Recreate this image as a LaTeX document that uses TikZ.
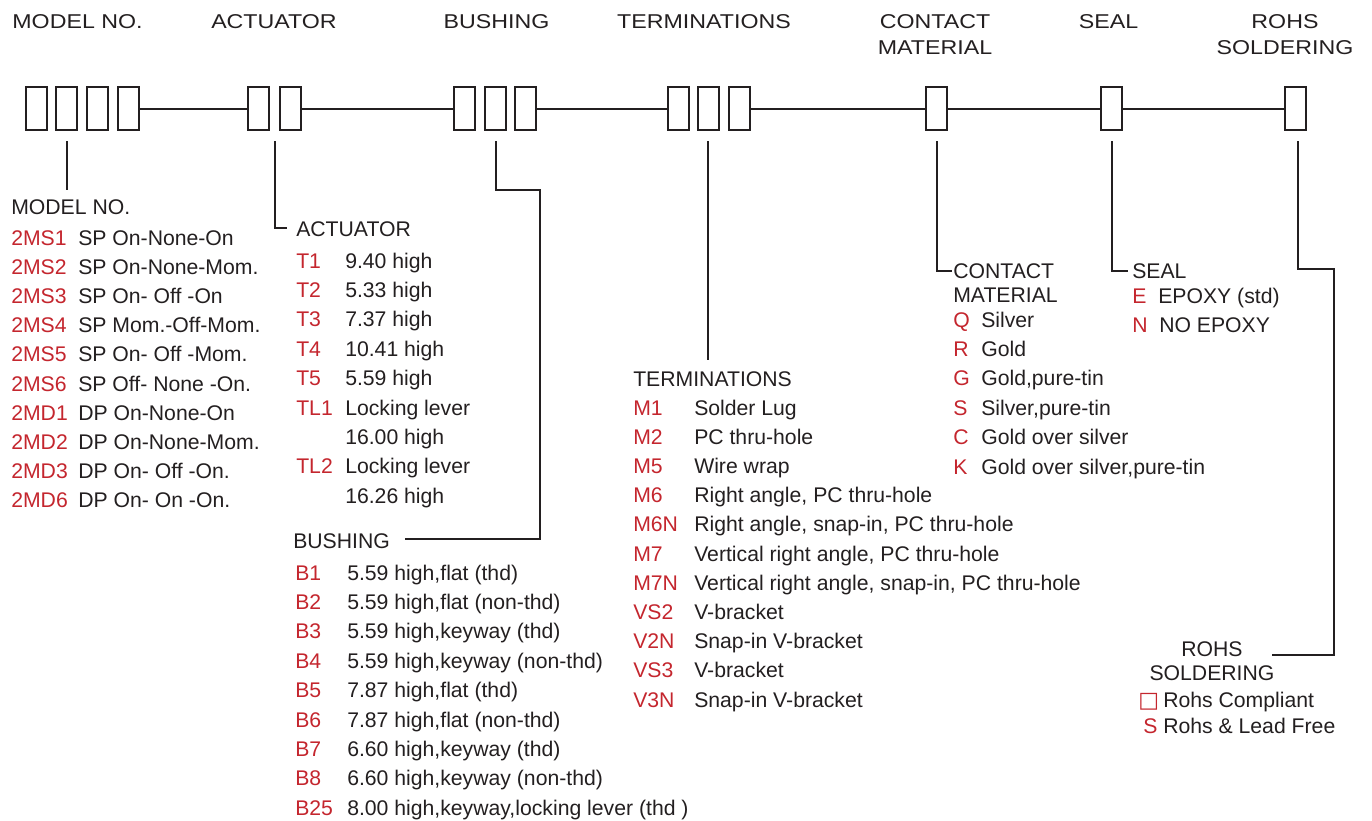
\documentclass[tikz,border=0pt]{standalone}
\usepackage{fontspec}
\setmainfont{Liberation Sans}
\newfontfamily\hdfont{Liberation Sans}[FakeStretch=1.16]
\newfontfamily\symfont{DejaVu Sans}
\usetikzlibrary{calc}
\definecolor{ink}{HTML}{231F20}
\definecolor{codered}{HTML}{C4262E}
\newcommand{\bodyfnt}{\fontsize{15.9}{19}\selectfont}
\newcommand{\hdfnt}{\hdfont\fontsize{15}{18}\selectfont}
\tikzset{
  cell/.style={draw=ink, line width=1.5pt, minimum width=15.75pt, minimum height=32.25pt, inner sep=0pt},
  wire/.style={draw=ink, line width=1.5pt},
  hd/.style={font=\hdfnt, text=ink, inner sep=0pt, anchor=base},
  lbl/.style={font=\bodyfnt, text=ink, inner sep=0pt, anchor=base west},
  lblc/.style={font=\bodyfnt, text=ink, inner sep=0pt, anchor=base},
  code/.style={font=\bodyfnt, text=codered, inner sep=0pt, anchor=base west},
}
\begin{document}
\begin{tikzpicture}[x=0.75pt, y=-0.75pt]
\useasboundingbox (0,0) rectangle (1372,821);

% ---- top headers
\node[hd] (hModel) at (77.5,28) {MODEL NO.};
\node[hd] (hAct) at (274,28) {ACTUATOR};
\node[hd] (hBush) at (496.5,28) {BUSHING};
\node[hd] (hTerm) at (704,28) {TERMINATIONS};
\node[hd] (hCont) at (935,28) {CONTACT};
\node[hd] (hMat) at (935,54) {MATERIAL};
\node[hd] (hSeal) at (1108.5,28) {SEAL};
\node[hd] (hRohs) at (1285,28) {ROHS};
\node[hd] (hSold) at (1285,54) {SOLDERING};

% ---- boxes
\node[cell] (m1) at (36,108.5) {};
\node[cell] (m2) at (66.5,108.5) {};
\node[cell] (m3) at (97,108.5) {};
\node[cell] (m4) at (128,108.5) {};
\node[cell] (a1) at (258.7,108.5) {};
\node[cell] (a2) at (290,108.5) {};
\node[cell] (b1) at (464.7,108.5) {};
\node[cell] (b2) at (495,108.5) {};
\node[cell] (b3) at (525.8,108.5) {};
\node[cell] (t1) at (678.3,108.5) {};
\node[cell] (t2) at (708.3,108.5) {};
\node[cell] (t3) at (739.5,108.5) {};
\node[cell] (c1) at (936.7,108.5) {};
\node[cell] (s1) at (1111.7,108.5) {};
\node[cell] (r1) at (1295.5,108.5) {};

% ---- main line
\draw[wire] (m4.east) -- (a1.west);
\draw[wire] (a2.east) -- (b1.west);
\draw[wire] (b3.east) -- (t1.west);
\draw[wire] (t3.east) -- (c1.west);
\draw[wire] (c1.east) -- (s1.west);
\draw[wire] (s1.east) -- (r1.west);

% ---- leader lines
\coordinate (mS) at ($(m2.south)+(0.5,10)$);
\coordinate (mE) at (67,190);
\draw[wire] (mS) -- (mS |- mE);

\coordinate (aS) at ($(a1.south)!0.5!(a2.south)+(1,10)$);
\coordinate (aE) at (287,228);
\draw[wire] (aS) |- (aE);

\coordinate (bS) at ($(b2.south)+(0.5,10)$);
\coordinate (bC) at (540,190);
\coordinate (bE) at (405,539);
\draw[wire] (bS) |- (bC) |- (bE);

\coordinate (tS) at ($(t2.south)+(0,10)$);
\coordinate (tE) at (708,360);
\draw[wire] (tS) -- (tS |- tE);

\coordinate (cS) at ($(c1.south)+(0,10)$);
\coordinate (cE) at (952,271);
\draw[wire] (cS) |- (cE);

\coordinate (sS) at ($(s1.south)+(0,10)$);
\coordinate (sE) at (1128,271);
\draw[wire] (sS) |- (sE);

\coordinate (rS) at ($(r1.south)+(2,10)$);
\coordinate (rC) at (1334,269);
\coordinate (rE) at (1272,655);
\draw[wire] (rS) |- (rC) |- (rE);

% ---- MODEL NO. list
\node[lbl] (lModel) at (11,214) {MODEL NO.};
\foreach \c/\d [count=\i from 0] in {2MS1/SP On-None-On, 2MS2/SP On-None-Mom., 2MS3/SP On- Off -On, 2MS4/SP Mom.-Off-Mom., 2MS5/SP On- Off -Mom., 2MS6/SP Off- None -On., 2MD1/DP On-None-On, 2MD2/DP On-None-Mom., 2MD3/DP On- Off -On., 2MD6/DP On- On -On.}{
  \node[code] (mc\i) at (11,245+29.2*\i) {\c};
  \node[lbl] (md\i) at (78,245+29.2*\i) {\d};
}

% ---- ACTUATOR list
\node[lbl] (lAct) at (296,236) {ACTUATOR};
\foreach \c/\d [count=\i from 0] in {T1/9.40 high, T2/5.33 high, T3/7.37 high, T4/10.41 high, T5/5.59 high, TL1/Locking lever}{
  \node[code] (ac\i) at (296,268+29.4*\i) {\c};
  \node[lbl] (ad\i) at (345,268+29.4*\i) {\d};
}
\node[lbl] (adx1) at (345,268+29.4*6) {16.00 high};
\node[code] (ac7) at (296,268+29.4*7) {TL2};
\node[lbl] (ad7) at (345,268+29.4*7) {Locking lever};
\node[lbl] (adx2) at (345,268+29.4*8) {16.26 high};

% ---- BUSHING list
\node[lbl] (lBush) at (293,548) {BUSHING};
\foreach \c/\d [count=\i from 0] in {{B1/5.59 high,flat (thd)}, {B2/5.59 high,flat (non-thd)}, {B3/5.59 high,keyway (thd)}, {B4/5.59 high,keyway (non-thd)}, {B5/7.87 high,flat (thd)}, {B6/7.87 high,flat (non-thd)}, {B7/6.60 high,keyway (thd)}, {B8/6.60 high,keyway (non-thd)}, {B25/8.00 high,keyway,locking lever (thd )}}{
  \node[code] (bc\i) at (295,580+29.4*\i) {\c};
  \node[lbl] (bd\i) at (347,580+29.4*\i) {\d};
}

% ---- TERMINATIONS list
\node[lbl] (lTerm) at (633,386) {TERMINATIONS};
\foreach \c/\d [count=\i from 0] in {{M1/Solder Lug}, {M2/PC thru-hole}, {M5/Wire wrap}, {M6/Right angle, PC thru-hole}, {M6N/Right angle, snap-in, PC thru-hole}, {M7/Vertical right angle, PC thru-hole}, {M7N/Vertical right angle, snap-in, PC thru-hole}, {VS2/V-bracket}, {V2N/Snap-in V-bracket}, {VS3/V-bracket}, {V3N/Snap-in V-bracket}}{
  \node[code] (tc\i) at (633,415+29.2*\i) {\c};
  \node[lbl] (td\i) at (694,415+29.2*\i) {\d};
}

% ---- CONTACT MATERIAL list
\node[lbl] (lCont) at (953,278) {CONTACT};
\node[lbl] (lMat) at (953,302) {MATERIAL};
\foreach \c/\d [count=\i from 0] in {{Q/Silver}, {R/Gold}, {G/Gold,pure-tin}, {S/Silver,pure-tin}, {C/Gold over silver}, {K/Gold over silver,pure-tin}}{
  \node[code] (cc\i) at (953,327+29.4*\i) {\c};
  \node[lbl] (cd\i) at (981,327+29.4*\i) {\d};
}

% ---- SEAL list
\node[lbl] (lSeal) at (1132,278) {SEAL};
\node[code] (sc0) at (1132,303) {E};
\node[lbl] (sd0) at (1158,303) {EPOXY (std)};
\node[code] (sc1) at (1132,332) {N};
\node[lbl] (sd1) at (1159,332) {NO EPOXY};

% ---- ROHS list
\node[lblc] (lRohs) at (1212,656) {ROHS};
\node[lblc] (lSold) at (1212,680) {SOLDERING};
\node[code, font=\symfont\fontsize{16.5}{18}\selectfont] (rc0) at (1138,707) {□};
\node[lbl] (rd0) at (1163,707) {Rohs Compliant};
\node[code] (rc1) at (1143,733) {S};
\node[lbl] (rd1) at (1163,733) {Rohs \& Lead Free};
\end{tikzpicture}
\end{document}
